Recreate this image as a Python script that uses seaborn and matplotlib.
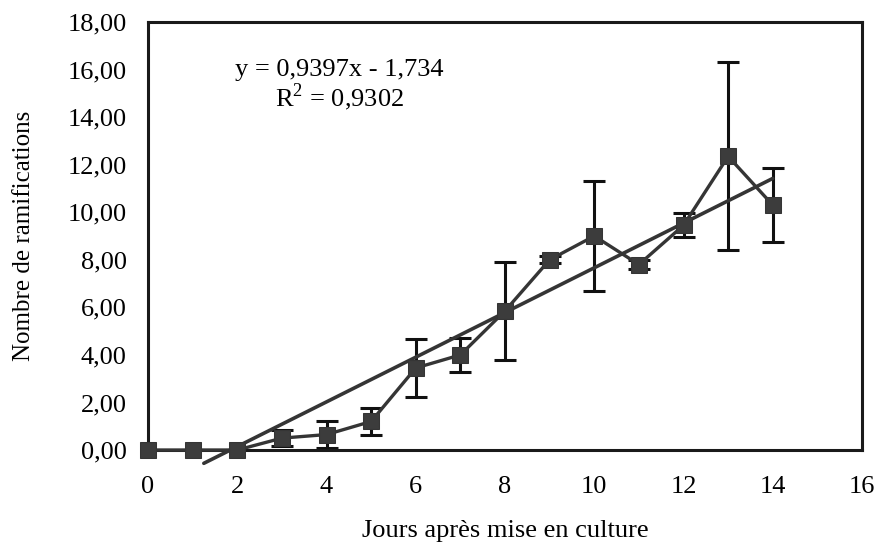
import numpy as np
import pandas as pd
import matplotlib
matplotlib.use("Agg")
import matplotlib.pyplot as plt
import seaborn as sns

days = [0, 1, 2, 3, 4, 5, 6, 7, 8, 9, 10, 11, 12, 13, 14]
ramif = [0.0, 0.0, 0.0, 0.5, 0.65, 1.2, 3.45, 4.0, 5.85, 8.0, 9.0, 7.8, 9.45, 12.35, 10.3]
err = [0.0, 0.0, 0.0, 0.35, 0.55, 0.55, 1.2, 0.7, 2.05, 0.15, 2.3, 0.2, 0.5, 3.95, 1.55]
slope, intercept = 0.9397, -1.734
trend_x = [1.25, 14]
equation = "y = 0,9397x - 1,734"
r2_text = "R$^2$ = 0,9302"
xticks = [0, 2, 4, 6, 8, 10, 12, 14, 16]
yticks = [0, 2, 4, 6, 8, 10, 12, 14, 16, 18]

sns.set_theme(style="white")
plt.rcParams['font.family'] = ['Liberation Serif', 'DejaVu Serif']
plt.rcParams['mathtext.fontset'] = 'custom'
plt.rcParams['mathtext.rm'] = 'Liberation Serif'

df = pd.DataFrame({"x": days, "y": ramif})
fig = plt.figure(figsize=(8.78, 5.46), dpi=100)
ax = fig.add_axes([0.1686, 0.1758, 0.8132, 0.7839])

line_col = '#353535'
ax.errorbar(days, ramif, yerr=err, fmt='none', ecolor='#111111',
            elinewidth=2.2, capsize=8, capthick=2.2, zorder=2)
tx = np.array(trend_x, dtype=float)
ax.plot(tx, slope * tx + intercept, color=line_col, lw=2.6, zorder=3, clip_on=False)
sns.lineplot(data=df, x="x", y="y", ax=ax, color=line_col, lw=2.4,
             marker='s', markersize=11.5, markeredgecolor=line_col,
             markerfacecolor='#3c3c3c', zorder=4, clip_on=False)

ax.set_xlim(0, 16)
ax.set_ylim(0, 18)
ax.set_xticks(xticks)
ax.set_xticklabels([str(v) for v in xticks])
ax.set_yticks(yticks)
ax.set_yticklabels([f"{v:.2f}".replace('.', ',') for v in yticks])
ax.tick_params(axis='both', direction='inout', length=11, width=1.4,
               colors='#222222', labelsize=19, labelcolor='black')
ax.tick_params(axis='x', pad=13)
ax.tick_params(axis='y', pad=10)
for s in ax.spines.values():
    s.set_color('#1a1a1a')
    s.set_linewidth(2.2)

ax.set_xlabel("Jours après mise en culture", fontsize=19, labelpad=16, color='black')
ax.set_ylabel("Nombre de ramifications", fontsize=18, labelpad=23, color='black')

ax.text(4.28, 16.0, equation, ha='center', va='center', fontsize=19, color='black')
ax.text(4.28, 14.85, r2_text, ha='center', va='center', fontsize=19, color='black')

fig.savefig("out.png", dpi=100)
